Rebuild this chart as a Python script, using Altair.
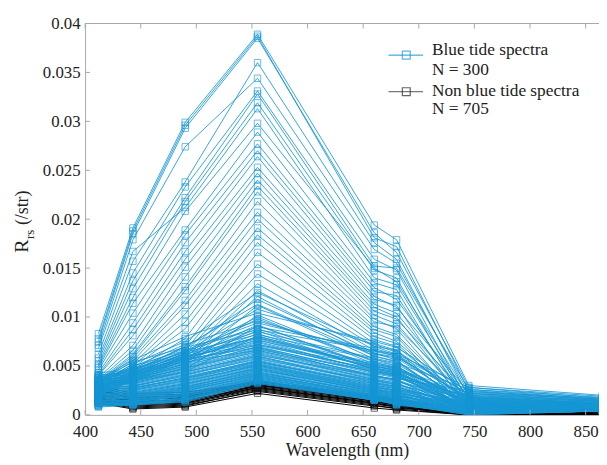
import altair as alt
import pandas as pd

wavelengths = [412, 443, 490, 555, 660, 680, 745, 865]
x_ticks = [400, 450, 500, 550, 600, 650, 700, 750, 800, 850]
y_ticks = [0, 0.005, 0.01, 0.015, 0.02, 0.025, 0.03, 0.035, 0.04]

# Blue tide spectra (representative subset), one list per band
blue_412 = [0.0083, 0.0078, 0.0075, 0.0062, 0.0071, 0.0058, 0.0055, 0.0052, 0.0068, 0.0050, 0.0048, 0.0046, 0.0043, 0.0041, 0.0040, 0.0038, 0.0036, 0.0035, 0.0034, 0.0033, 0.0033, 0.0032, 0.0031, 0.0030, 0.0030, 0.0029, 0.0028, 0.0027, 0.0027, 0.0026, 0.0025, 0.0025, 0.0024, 0.0023, 0.0022,
            0.0030, 0.0028, 0.0026, 0.0034, 0.0024, 0.0031, 0.0022, 0.0029, 0.0020, 0.0033,
            0.0037, 0.0035, 0.0036, 0.0033, 0.0034, 0.0031, 0.0032, 0.0030, 0.0029, 0.0030, 0.0028, 0.0027, 0.0026, 0.0027, 0.0025, 0.0024, 0.0023, 0.0024, 0.0022, 0.0021, 0.0020, 0.0021, 0.0019, 0.0018, 0.0017, 0.0018, 0.0016, 0.0015, 0.0014, 0.0015, 0.0013, 0.0012, 0.0011, 0.0012, 0.0010, 0.0009, 0.0008, 0.0040, 0.0038, 0.0039,
            0.0032, 0.0027, 0.0036, 0.0025, 0.0033, 0.0023, 0.0035, 0.0021, 0.0038, 0.0027,
            0.0036, 0.0034, 0.0032, 0.0035, 0.0029, 0.0031, 0.0028, 0.0030, 0.0026, 0.0028, 0.0025, 0.0026, 0.0023, 0.0024, 0.0021, 0.0022, 0.0019, 0.0020, 0.0017, 0.0018, 0.0016, 0.0014, 0.0015, 0.0013, 0.0012, 0.0011, 0.0010, 0.0009, 0.0041, 0.0043]
blue_443 = [0.0191, 0.0188, 0.0185, 0.0157, 0.0179, 0.0145, 0.0137, 0.0129, 0.0167, 0.0120, 0.0114, 0.0104, 0.0094, 0.0087, 0.0081, 0.0071, 0.0066, 0.0062, 0.0060, 0.0058, 0.0055, 0.0052, 0.0050, 0.0048, 0.0046, 0.0044, 0.0043, 0.0042, 0.0041, 0.0040, 0.0039, 0.0038, 0.0037, 0.0036, 0.0035,
            0.0048, 0.0046, 0.0044, 0.0050, 0.0040, 0.0043, 0.0037, 0.0039, 0.0035, 0.0047,
            0.0042, 0.0040, 0.0038, 0.0037, 0.0036, 0.0035, 0.0034, 0.0033, 0.0032, 0.0031, 0.0030, 0.0029, 0.0028, 0.0027, 0.0026, 0.0025, 0.0024, 0.0023, 0.0022, 0.0021, 0.0020, 0.0019, 0.0018, 0.0018, 0.0017, 0.0016, 0.0015, 0.0015, 0.0014, 0.0013, 0.0013, 0.0012, 0.0012, 0.0011, 0.0011, 0.0010, 0.0010, 0.0045, 0.0044, 0.0041,
            0.0052, 0.0045, 0.0056, 0.0042, 0.0049, 0.0038, 0.0054, 0.0036, 0.0047, 0.0041,
            0.0039, 0.0041, 0.0036, 0.0034, 0.0035, 0.0032, 0.0033, 0.0029, 0.0030, 0.0027, 0.0028, 0.0025, 0.0026, 0.0022, 0.0023, 0.0020, 0.0021, 0.0018, 0.0019, 0.0016, 0.0017, 0.0015, 0.0014, 0.0013, 0.0014, 0.0012, 0.0011, 0.0011, 0.0043, 0.0046]
blue_490 = [0.0299, 0.0296, 0.0293, 0.0238, 0.0274, 0.0233, 0.0222, 0.0218, 0.0212, 0.0208, 0.0189, 0.0184, 0.0176, 0.0167, 0.0159, 0.0151, 0.0141, 0.0131, 0.0127, 0.0117, 0.0112, 0.0103, 0.0095, 0.0088, 0.0078, 0.0070, 0.0066, 0.0063, 0.0060, 0.0058, 0.0055, 0.0052, 0.0050, 0.0047, 0.0044,
            0.0068, 0.0064, 0.0061, 0.0066, 0.0059, 0.0062, 0.0055, 0.0057, 0.0053, 0.0065,
            0.0058, 0.0055, 0.0052, 0.0050, 0.0049, 0.0047, 0.0046, 0.0045, 0.0043, 0.0042, 0.0041, 0.0040, 0.0038, 0.0037, 0.0036, 0.0035, 0.0033, 0.0032, 0.0031, 0.0030, 0.0029, 0.0028, 0.0027, 0.0026, 0.0025, 0.0024, 0.0023, 0.0022, 0.0021, 0.0020, 0.0019, 0.0018, 0.0017, 0.0016, 0.0015, 0.0014, 0.0013, 0.0060, 0.0057, 0.0054,
            0.0075, 0.0070, 0.0080, 0.0063, 0.0072, 0.0058, 0.0069, 0.0056, 0.0064, 0.0060,
            0.0053, 0.0056, 0.0051, 0.0048, 0.0048, 0.0044, 0.0044, 0.0041, 0.0039, 0.0038, 0.0037, 0.0034, 0.0035, 0.0031, 0.0032, 0.0028, 0.0029, 0.0026, 0.0027, 0.0024, 0.0025, 0.0022, 0.0021, 0.0020, 0.0019, 0.0017, 0.0016, 0.0015, 0.0059, 0.0062]
blue_555 = [0.0389, 0.0387, 0.0385, 0.0360, 0.0344, 0.0331, 0.0328, 0.0319, 0.0313, 0.0298, 0.0289, 0.0277, 0.0270, 0.0264, 0.0253, 0.0247, 0.0240, 0.0234, 0.0228, 0.0218, 0.0207, 0.0200, 0.0191, 0.0184, 0.0176, 0.0166, 0.0154, 0.0144, 0.0134, 0.0127, 0.0121, 0.0112, 0.0102, 0.0091, 0.0081,
            0.0118, 0.0108, 0.0098, 0.0094, 0.0088, 0.0085, 0.0083, 0.0080, 0.0077, 0.0090,
            0.0078, 0.0075, 0.0072, 0.0070, 0.0068, 0.0066, 0.0065, 0.0063, 0.0062, 0.0060, 0.0059, 0.0058, 0.0056, 0.0055, 0.0054, 0.0053, 0.0052, 0.0051, 0.0050, 0.0049, 0.0048, 0.0047, 0.0046, 0.0045, 0.0044, 0.0043, 0.0042, 0.0041, 0.0040, 0.0039, 0.0038, 0.0037, 0.0036, 0.0035, 0.0034, 0.0033, 0.0032, 0.0072, 0.0069, 0.0066,
            0.0125, 0.0113, 0.0104, 0.0100, 0.0096, 0.0092, 0.0087, 0.0086, 0.0082, 0.0079,
            0.0074, 0.0071, 0.0069, 0.0067, 0.0064, 0.0061, 0.0060, 0.0057, 0.0055, 0.0054, 0.0052, 0.0051, 0.0050, 0.0048, 0.0047, 0.0046, 0.0044, 0.0043, 0.0042, 0.0041, 0.0040, 0.0039, 0.0038, 0.0037, 0.0036, 0.0035, 0.0034, 0.0033, 0.0076, 0.0079]
blue_660 = [0.0194, 0.0181, 0.0186, 0.0176, 0.0169, 0.0159, 0.0152, 0.0148, 0.0140, 0.0150, 0.0135, 0.0130, 0.0126, 0.0121, 0.0118, 0.0113, 0.0110, 0.0106, 0.0102, 0.0098, 0.0095, 0.0090, 0.0087, 0.0084, 0.0080, 0.0077, 0.0073, 0.0070, 0.0066, 0.0063, 0.0060, 0.0057, 0.0054, 0.0050, 0.0047,
            0.0062, 0.0072, 0.0055, 0.0065, 0.0050, 0.0058, 0.0047, 0.0053, 0.0044, 0.0068,
            0.0048, 0.0045, 0.0046, 0.0042, 0.0040, 0.0041, 0.0038, 0.0037, 0.0036, 0.0035, 0.0034, 0.0033, 0.0032, 0.0031, 0.0030, 0.0029, 0.0028, 0.0027, 0.0027, 0.0026, 0.0025, 0.0024, 0.0024, 0.0023, 0.0022, 0.0022, 0.0021, 0.0020, 0.0020, 0.0019, 0.0018, 0.0018, 0.0017, 0.0016, 0.0016, 0.0015, 0.0015, 0.0050, 0.0044, 0.0039,
            0.0070, 0.0060, 0.0075, 0.0052, 0.0063, 0.0048, 0.0066, 0.0046, 0.0057, 0.0051,
            0.0043, 0.0047, 0.0039, 0.0044, 0.0036, 0.0040, 0.0033, 0.0035, 0.0030, 0.0032, 0.0029, 0.0028, 0.0026, 0.0026, 0.0024, 0.0025, 0.0022, 0.0023, 0.0020, 0.0021, 0.0019, 0.0019, 0.0017, 0.0018, 0.0016, 0.0017, 0.0015, 0.0016, 0.0052, 0.0049]
blue_680 = [0.0179, 0.0172, 0.0166, 0.0159, 0.0155, 0.0148, 0.0150, 0.0140, 0.0133, 0.0136, 0.0128, 0.0118, 0.0122, 0.0110, 0.0112, 0.0104, 0.0100, 0.0098, 0.0093, 0.0088, 0.0090, 0.0082, 0.0080, 0.0075, 0.0073, 0.0070, 0.0066, 0.0062, 0.0060, 0.0056, 0.0054, 0.0050, 0.0048, 0.0045, 0.0042,
            0.0058, 0.0064, 0.0050, 0.0060, 0.0046, 0.0053, 0.0043, 0.0049, 0.0040, 0.0061,
            0.0044, 0.0041, 0.0040, 0.0038, 0.0036, 0.0035, 0.0034, 0.0032, 0.0031, 0.0030, 0.0029, 0.0028, 0.0027, 0.0026, 0.0025, 0.0025, 0.0024, 0.0023, 0.0022, 0.0021, 0.0021, 0.0020, 0.0019, 0.0019, 0.0018, 0.0017, 0.0017, 0.0016, 0.0015, 0.0015, 0.0014, 0.0014, 0.0013, 0.0012, 0.0012, 0.0011, 0.0011, 0.0045, 0.0042, 0.0037,
            0.0066, 0.0055, 0.0069, 0.0048, 0.0059, 0.0044, 0.0062, 0.0041, 0.0052, 0.0047,
            0.0039, 0.0043, 0.0035, 0.0039, 0.0033, 0.0036, 0.0029, 0.0031, 0.0027, 0.0028, 0.0024, 0.0025, 0.0022, 0.0023, 0.0020, 0.0021, 0.0018, 0.0019, 0.0016, 0.0017, 0.0015, 0.0016, 0.0014, 0.0013, 0.0013, 0.0012, 0.0011, 0.0010, 0.0047, 0.0046]
blue_745 = [0.0030, 0.0024, 0.0028, 0.0018, 0.0022, 0.0012, 0.0026, 0.0008, 0.0015, 0.0020, 0.0005, 0.0017, 0.0010, 0.0023, 0.0003, 0.0014, 0.0007, 0.0019, 0.0011, 0.0004, 0.0016, 0.0009, 0.0002, 0.0013, 0.0006, 0.0012, 0.0003, 0.0008, 0.0010, 0.0002, 0.0007, 0.0005, 0.0004, 0.0006, 0.0003,
            0.0012, 0.0021, 0.0009, 0.0017, 0.0004, 0.0026, 0.0007, 0.0013, 0.0003, 0.0022,
            0.0011, 0.0018, 0.0006, 0.0014, 0.0002, 0.0009, 0.0016, 0.0004, 0.0012, 0.0007, 0.0001, 0.0010, 0.0005, 0.0013, 0.0003, 0.0008, 0.0002, 0.0006, 0.0011, 0.0004, 0.0001, 0.0007, 0.0003, 0.0009, 0.0002, 0.0005, 0.0001, 0.0006, 0.0003, 0.0008, 0.0002, 0.0004, 0.0001, 0.0005, 0.0002, 0.0000, 0.0003, 0.0020, 0.0015, 0.0025,
            0.0015, 0.0008, 0.0024, 0.0005, 0.0018, 0.0003, 0.0028, 0.0006, 0.0011, 0.0016,
            0.0008, 0.0013, 0.0005, 0.0019, 0.0003, 0.0010, 0.0006, 0.0014, 0.0002, 0.0009, 0.0004, 0.0012, 0.0001, 0.0007, 0.0003, 0.0010, 0.0002, 0.0006, 0.0001, 0.0004, 0.0002, 0.0005, 0.0001, 0.0003, 0.0002, 0.0000, 0.0001, 0.0002, 0.0022, 0.0017]
blue_865 = [0.0020, 0.0017, 0.0019, 0.0014, 0.0016, 0.0011, 0.0018, 0.0009, 0.0012, 0.0015, 0.0007, 0.0013, 0.0010, 0.0016, 0.0006, 0.0012, 0.0008, 0.0014, 0.0010, 0.0006, 0.0012, 0.0009, 0.0005, 0.0011, 0.0007, 0.0010, 0.0005, 0.0008, 0.0009, 0.0005, 0.0007, 0.0006, 0.0005, 0.0007, 0.0005,
            0.0008, 0.0014, 0.0007, 0.0012, 0.0005, 0.0016, 0.0006, 0.0009, 0.0004, 0.0014,
            0.0008, 0.0012, 0.0006, 0.0010, 0.0005, 0.0008, 0.0011, 0.0006, 0.0009, 0.0007, 0.0004, 0.0008, 0.0006, 0.0009, 0.0005, 0.0007, 0.0004, 0.0006, 0.0008, 0.0005, 0.0004, 0.0006, 0.0005, 0.0007, 0.0004, 0.0005, 0.0004, 0.0006, 0.0004, 0.0006, 0.0004, 0.0005, 0.0004, 0.0005, 0.0004, 0.0004, 0.0005, 0.0013, 0.0011, 0.0015,
            0.0010, 0.0007, 0.0015, 0.0005, 0.0012, 0.0004, 0.0017, 0.0006, 0.0009, 0.0011,
            0.0007, 0.0010, 0.0005, 0.0012, 0.0004, 0.0008, 0.0006, 0.0010, 0.0004, 0.0007, 0.0005, 0.0009, 0.0004, 0.0006, 0.0005, 0.0008, 0.0004, 0.0006, 0.0004, 0.0005, 0.0004, 0.0005, 0.0004, 0.0004, 0.0005, 0.0004, 0.0004, 0.0005, 0.0014, 0.0012]

# Non blue tide spectra (representative subset)
black_412 = [0.0012, 0.0014, 0.0016, 0.0018, 0.0020, 0.0022, 0.0024, 0.0026, 0.0028, 0.0030, 0.0013, 0.0017, 0.0021, 0.0025, 0.0019, 0.0015]
black_443 = [0.0006, 0.0008, 0.0009, 0.0011, 0.0012, 0.0014, 0.0016, 0.0018, 0.0020, 0.0022, 0.0007, 0.0010, 0.0013, 0.0017, 0.0015, 0.0010]
black_490 = [0.0008, 0.0010, 0.0011, 0.0012, 0.0014, 0.0015, 0.0017, 0.0019, 0.0021, 0.0023, 0.0009, 0.0013, 0.0016, 0.0020, 0.0018, 0.0012]
black_555 = [0.0022, 0.0024, 0.0026, 0.0027, 0.0028, 0.0029, 0.0030, 0.0031, 0.0032, 0.0033, 0.0025, 0.0030, 0.0034, 0.0035, 0.0033, 0.0028]
black_660 = [0.0007, 0.0009, 0.0011, 0.0012, 0.0013, 0.0014, 0.0015, 0.0016, 0.0017, 0.0018, 0.0010, 0.0019, 0.0020, 0.0017, 0.0014, 0.0012]
black_680 = [0.0005, 0.0007, 0.0008, 0.0009, 0.0010, 0.0011, 0.0012, 0.0013, 0.0014, 0.0015, 0.0006, 0.0014, 0.0016, 0.0013, 0.0010, 0.0008]
black_745 = [0.0000, 0.0001, 0.0000, 0.0001, 0.0002, 0.0001, 0.0000, 0.0002, 0.0001, 0.0003, 0.0000, 0.0001, 0.0002, 0.0001, 0.0000, 0.0001]
black_865 = [0.0000, 0.0001, 0.0001, 0.0000, 0.0002, 0.0001, 0.0000, 0.0001, 0.0002, 0.0002, 0.0000, 0.0001, 0.0001, 0.0000, 0.0001, 0.0000]

legend_texts = ["Blue tide spectra", "N = 300", "Non blue tide spectra", "N = 705"]

BLUE = "#1596d4"
FONT = "Liberation Serif, Times New Roman, Times, DejaVu Serif, serif"
TXT = "#222222"
AX = "#a8a8a8"
W, H = 520, 396


def to_long(cols, prefix):
    rows = []
    n = len(cols[0])
    for i in range(n):
        for wl, col in zip(wavelengths, cols):
            rows.append({"id": f"{prefix}{i}", "wl": wl, "r": col[i]})
    return pd.DataFrame(rows)


blue_df = to_long([blue_412, blue_443, blue_490, blue_555, blue_660, blue_680, blue_745, blue_865], "b")
black_df = to_long([black_412, black_443, black_490, black_555, black_660, black_680, black_745, black_865], "k")

xscale = alt.Scale(domain=[400, 862], nice=False, zero=False)
yscale = alt.Scale(domain=[0, 0.04], nice=False, zero=False)
xaxis = alt.Axis(values=x_ticks, format="d", ticks=False, grid=False, domainColor=AX,
                 labelFont=FONT, labelFontSize=17, labelColor=TXT, labelPadding=9,
                 labelFlush=False, labelOverlap=False,
                 title="Wavelength (nm)", titleFont=FONT, titleFontSize=18,
                 titleFontWeight="normal", titleColor=TXT, titleX=265, titleY=41,
                 titleBaseline="alphabetic", titleAlign="center")
yaxis = alt.Axis(values=y_ticks, format=".3~f", ticks=False, grid=False, domainColor=AX,
                 labelFont=FONT, labelFontSize=17, labelColor=TXT, labelPadding=5,
                 labelFlush=False, labelOverlap=False, title=None)


def X(f):
    return alt.X(f, type="quantitative", scale=xscale, axis=xaxis)


def Y(f):
    return alt.Y(f, type="quantitative", scale=yscale, axis=yaxis)


black_lines = alt.Chart(black_df).mark_line(color="#000000", strokeWidth=1.0, clip=True).encode(
    x=X("wl"), y=Y("r"), detail="id:N")
black_pts = alt.Chart(black_df).mark_point(shape="square", filled=False, color="#111111",
                                           size=42, strokeWidth=0.9, clip=True).encode(
    x=X("wl"), y=Y("r"))
blue_lines = alt.Chart(blue_df).mark_line(color=BLUE, strokeWidth=1.0, opacity=0.85, clip=True).encode(
    x=X("wl"), y=Y("r"), detail="id:N")
blue_pts = alt.Chart(blue_df).mark_point(shape="square", filled=False, color=BLUE,
                                         size=42, strokeWidth=0.9, clip=True).encode(
    x=X("wl"), y=Y("r"))

xt = pd.DataFrame({"t": x_ticks})
yt = pd.DataFrame({"t": y_ticks})
top_ticks = alt.Chart(xt).mark_rule(color=AX, strokeWidth=1).encode(
    x=X("t"), y=alt.value(0), y2=alt.value(5))
bot_ticks = alt.Chart(xt).mark_rule(color=AX, strokeWidth=1).encode(
    x=X("t"), y=alt.value(H), y2=alt.value(H - 5))
left_ticks = alt.Chart(yt).mark_rule(color=AX, strokeWidth=1).encode(
    y=Y("t"), x=alt.value(0), x2=alt.value(5))
top_frame = alt.Chart(xt.head(1)).mark_rule(color=AX, strokeWidth=1).encode(
    x=alt.value(0), x2=alt.value(W), y=alt.value(0))

one = pd.DataFrame({"a": [0]})
leg_blue_line = alt.Chart(one).mark_rule(color=BLUE, strokeWidth=1).encode(
    x=alt.value(307), x2=alt.value(342), y=alt.value(32))
leg_blue_pt = alt.Chart(one).mark_point(shape="square", filled=False, color=BLUE, size=64, strokeWidth=1.2).encode(
    x=alt.value(325), y=alt.value(32))
leg_black_line = alt.Chart(one).mark_rule(color="#555555", strokeWidth=1).encode(
    x=alt.value(307), x2=alt.value(342), y=alt.value(69))
leg_black_pt = alt.Chart(one).mark_point(shape="square", filled=False, color="#222222", size=64, strokeWidth=1.2).encode(
    x=alt.value(325), y=alt.value(69))


def txt(s, x, y, size=17.5, angle=0):
    return alt.Chart(one).mark_text(text=s, align="left", baseline="alphabetic", font=FONT,
                                    fontSize=size, color=TXT, angle=angle).encode(
        x=alt.value(x), y=alt.value(y))


leg_t = [txt(legend_texts[0], 351, 32), txt(legend_texts[1], 351, 52),
         txt(legend_texts[2], 351, 73), txt(legend_texts[3], 351, 92)]

ytitle = [txt("R", -58, 232, 20, 270), txt("rs", -52, 218, 13, 270), txt("(/str)", -58, 204, 18, 270)]

chart = alt.layer(black_lines, black_pts, blue_lines, blue_pts,
                  top_ticks, bot_ticks, left_ticks, top_frame,
                  leg_blue_line, leg_blue_pt, leg_black_line, leg_black_pt,
                  *leg_t, *ytitle).properties(
    width=W, height=H, autosize="none",
    padding={"left": 78, "top": 13, "right": 0, "bottom": 46},
    background="white",
).configure_view(stroke=None)

chart.save("out.html", embed_options={"renderer": "svg", "actions": False})
